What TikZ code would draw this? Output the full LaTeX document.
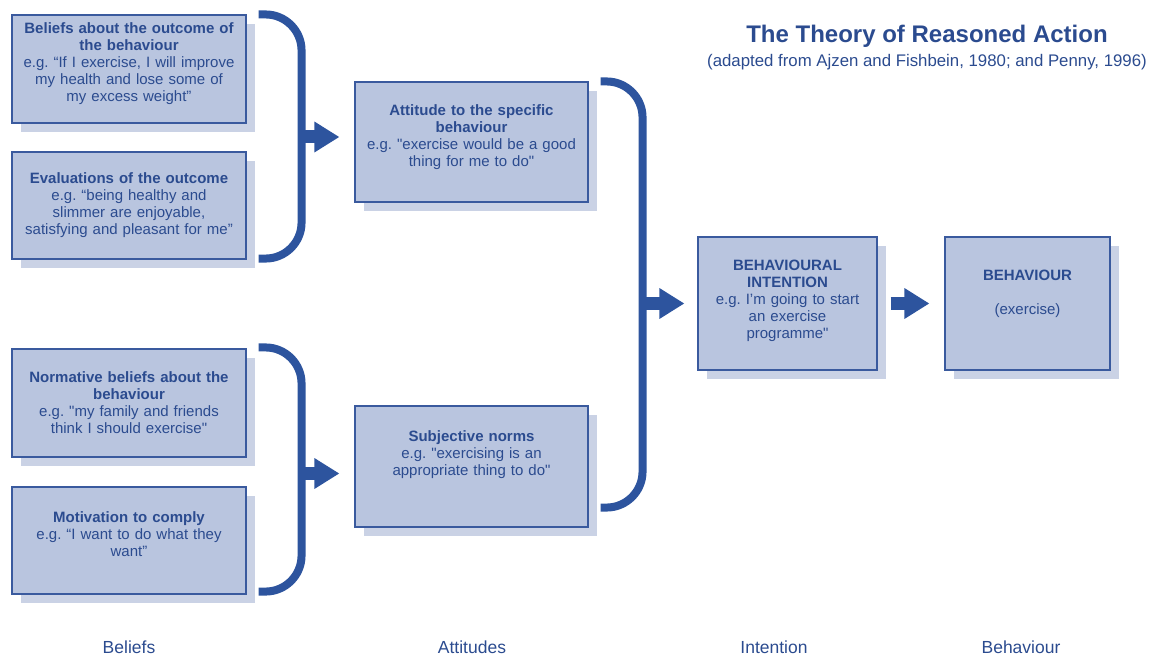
\documentclass[tikz,border=0pt]{standalone}
\usepackage{fontspec}
\setmainfont{Liberation Sans}
\usetikzlibrary{arrows.meta,shadows,calc}
\definecolor{boxfill}{HTML}{B9C5DF}
\definecolor{shadefill}{HTML}{CAD2E5}
\definecolor{boxline}{HTML}{3A5A9E}
\definecolor{txtblue}{HTML}{2B4B8F}
\definecolor{bracec}{HTML}{2D549E}
\newcommand\liftby[1]{\par\kern#1\relax}
\newcommand\dq{\textquotedbl}
\frenchspacing

\begin{document}
\begin{tikzpicture}[x=1pt,y=-1pt,
 block/.style ={rectangle, draw=boxline, line width=1.1pt, fill=boxfill, text=txtblue, align=center, inner sep=5pt, font=\fontsize{15}{17}\selectfont, drop shadow={shadow xshift=9pt, shadow yshift=-9pt, fill=shadefill, opacity=1}},
 lift/.style ={execute at end node={\liftby{#1}}},
 brace/.style ={draw=bracec, line width=8pt, rounded corners=36pt},
 line/.style ={draw=bracec, line width=13pt, -{Triangle[width=29pt,length=25pt]}},
 title/.style ={text=txtblue, font=\fontsize{24}{28}\selectfont\bfseries},
 subtitle/.style ={text=txtblue, font=\fontsize{16.8}{20}\selectfont},
 axis/.style ={text=txtblue, font=\fontsize{17.5}{20}\selectfont}]

\useasboundingbox (0,0) rectangle (1151,658);

\draw (927,36) node[title] (T) {The Theory of Reasoned Action};
\draw (927,62) node[subtitle] (S) {(adapted from Ajzen and Fishbein, 1980; and Penny, 1996)};

\draw (129,69) node[block, text width=224pt, minimum height=108pt, lift=10pt] (B1) {\textbf{Beliefs about the outcome of\\ the behaviour}\\ e.g. “If I exercise, I will improve\\ my health and lose some of\\ my excess weight”};
\draw (129,205.5) node[block, text width=224pt, minimum height=107pt] (B2) {\textbf{Evaluations of the outcome}\\ e.g. “being healthy and\\ slimmer are enjoyable,\\ satisfying and pleasant for me”};

\draw (129,403) node[block, text width=224pt, minimum height=108pt] (N1) {\textbf{Normative beliefs about the\\ behaviour}\\ e.g. \dq my family and friends\\ think I should exercise\dq};
\draw (129,540.5) node[block, text width=224pt, minimum height=107pt, lift=13pt] (N2) {\textbf{Motivation to comply}\\ e.g. “I want to do what they\\ want”};

\draw (471.5,142) node[block, text width=223pt, minimum height=120pt, lift=9pt] (A1) {\textbf{Attitude to the specific\\ behaviour}\\ e.g. \dq exercise would be a good\\ thing for me to do\dq};
\draw (471.5,466.5) node[block, text width=223pt, minimum height=121pt, lift=23pt] (A2) {\textbf{Subjective norms}\\ e.g. \dq exercising is an\\ appropriate thing to do\dq};

\draw (787.5,303.5) node[block, text width=169pt, minimum height=133pt, lift=5pt] (I1) {\textbf{BEHAVIOURAL\\ INTENTION}\\ e.g. I’m going to start\\ an exercise\\ programme\dq};
\draw (1027.5,303.5) node[block, text width=155pt, minimum height=133pt, lift=19pt] (Bh) {\textbf{BEHAVIOUR}\\[17pt] (exercise)};

	\draw [brace] ($(B1.north east)+(12,0)$) -- ($(B1.north east)+(55,0)$) |- ($(B2.south east)+(12,-1)$);
	\draw [brace] ($(N1.north east)+(12,-1)$) -- ($(N1.north east)+(55,-1)$) |- ($(N2.south east)+(12,-3)$);
	\draw [brace] ($(A1.north east)+(12,0)$) -- ($(A1.north east)+(54,0)$) |- ($(A2.south east)+(12,-20)$);

	\coordinate (k1) at ($(B1.north east)!0.5!(B2.south east)+(55,0)$);
	\coordinate (k2) at ($(N1.north east)!0.5!(N2.south east)+(55,2)$);
	\coordinate (k3) at ($(A1.north east)+(54,0)$);

	\draw [line, shorten >=15pt] (k1) -- (k1 -| A1.west);
	\draw [line, shorten >=15pt] (k2) -- (k2 -| A2.west);
	\draw [line, shorten >=13pt] (k3 |- I1.west) -- (I1.west);
	\draw [line, shorten <=13pt, shorten >=15pt] (I1.east) -- (Bh.west);

\draw (129,647) node[axis] (L1) {Beliefs};
\draw (472,647) node[axis] (L2) {Attitudes};
\draw (774,647) node[axis] (L3) {Intention};
\draw (1021,647) node[axis] (L4) {Behaviour};

\end{tikzpicture}
\end{document}
